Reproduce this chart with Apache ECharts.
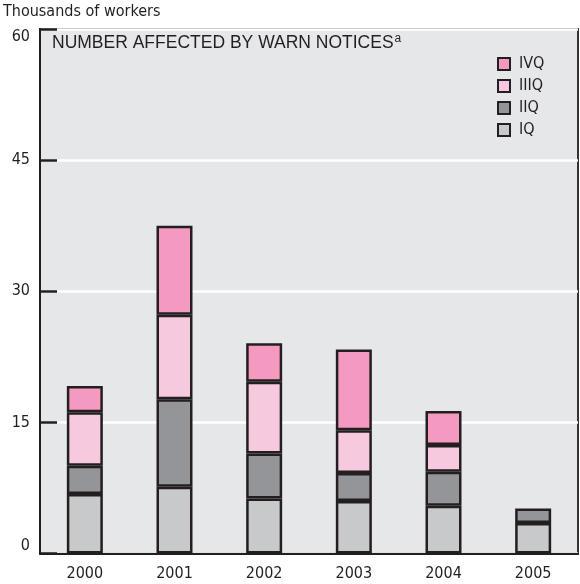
<!DOCTYPE html>
<html>
<head>
<meta charset="utf-8">
<script src="https://cdn.jsdelivr.net/npm/echarts@6/dist/echarts.min.js"></script>
<style>
  html, body { margin: 0; padding: 0; background: #ffffff; }
  #chart { width: 580px; height: 584px; }
</style>
</head>
<body>
<div id="chart"></div>
<script>
// Workers affected by WARN notices, thousands, by quarter
const years = ['2000', '2001', '2002', '2003', '2004', '2005'];
const q1 = [6.8, 7.65, 6.3, 6.0, 5.45, 3.5];
const q2 = [3.25, 10.0, 5.15, 3.2, 3.9, 1.65];
const q3 = [6.1, 9.65, 8.2, 4.9, 3.05, null];
const q4 = [3.0, 10.2, 4.4, 9.25, 3.9, null];
const yTicks = [0, 15, 30, 45, 60];

const narrow = "'DejaVu Sans Condensed', 'Liberation Sans Narrow', sans-serif";
const plain = "'Liberation Sans', Arial, sans-serif";
const ink = '#231f20';

const chart = echarts.init(document.getElementById('chart'), null, { renderer: 'canvas' });

function stackSeries(name, data, color) {
  return {
    name: name,
    type: 'bar',
    stack: 'total',
    data: data,
    barWidth: 36,
    itemStyle: { color: color, borderColor: ink, borderWidth: 2.5 },
    emphasis: { disabled: true }
  };
}

chart.setOption({
  animation: false,
  backgroundColor: '#ffffff',
  textStyle: { fontFamily: narrow },
  title: {
    text: '{m|NUMBER AFFECTED BY WARN NOTICES}{s|a}',
    left: 47,
    top: 28,
    textStyle: {
      rich: {
        m: { fontFamily: plain, fontWeight: 'normal', fontSize: 17.5, color: ink, lineHeight: 20 },
        s: { fontFamily: plain, fontWeight: 'normal', fontSize: 12, color: ink, verticalAlign: 'top', lineHeight: 20, padding: [0, 0, 8, 1] }
      }
    }
  },
  graphic: [{
    type: 'text',
    left: 3,
    top: 4,
    style: { text: 'Thousands of workers', font: '16px ' + narrow, fill: ink }
  }],
  legend: {
    orient: 'vertical',
    left: 492,
    top: 51,
    itemWidth: 12,
    itemHeight: 12,
    itemGap: 6,
    icon: 'rect',
    data: ['IVQ', 'IIIQ', 'IIQ', 'IQ'],
    itemStyle: { borderColor: ink, borderWidth: 2 },
    textStyle: { fontFamily: narrow, fontSize: 16, color: ink, padding: [0, 0, 0, 4] },
    selectedMode: false
  },
  grid: {
    left: 40,
    right: 2,
    top: 29,
    bottom: 30.5,
    show: true,
    backgroundColor: '#e6e7e9',
    borderColor: '#333333',
    borderWidth: 2
  },
  xAxis: {
    type: 'category',
    data: years,
    axisLine: { lineStyle: { color: ink, width: 2 } },
    axisTick: { show: false },
    axisLabel: { fontFamily: narrow, fontSize: 16, color: ink, margin: 12 }
  },
  yAxis: {
    type: 'value',
    min: yTicks[0],
    max: yTicks[yTicks.length - 1],
    interval: 15,
    axisLine: { show: true, lineStyle: { color: ink, width: 2 } },
    axisTick: { show: true, inside: true, length: 17, lineStyle: { color: ink, width: 2.5 } },
    splitLine: { show: true, lineStyle: { color: '#ffffff', width: 2.5 } },
    axisLabel: {
      fontFamily: narrow,
      fontSize: 16,
      color: ink,
      margin: 10,
      verticalAlignMinLabel: 'bottom',
      verticalAlignMaxLabel: 'top'
    }
  },
  series: [
    stackSeries('IQ', q1, '#c8c9cb'),
    stackSeries('IIQ', q2, '#939598'),
    stackSeries('IIIQ', q3, '#f7c9de'),
    stackSeries('IVQ', q4, '#f49ac1')
  ]
});
</script>
</body>
</html>
